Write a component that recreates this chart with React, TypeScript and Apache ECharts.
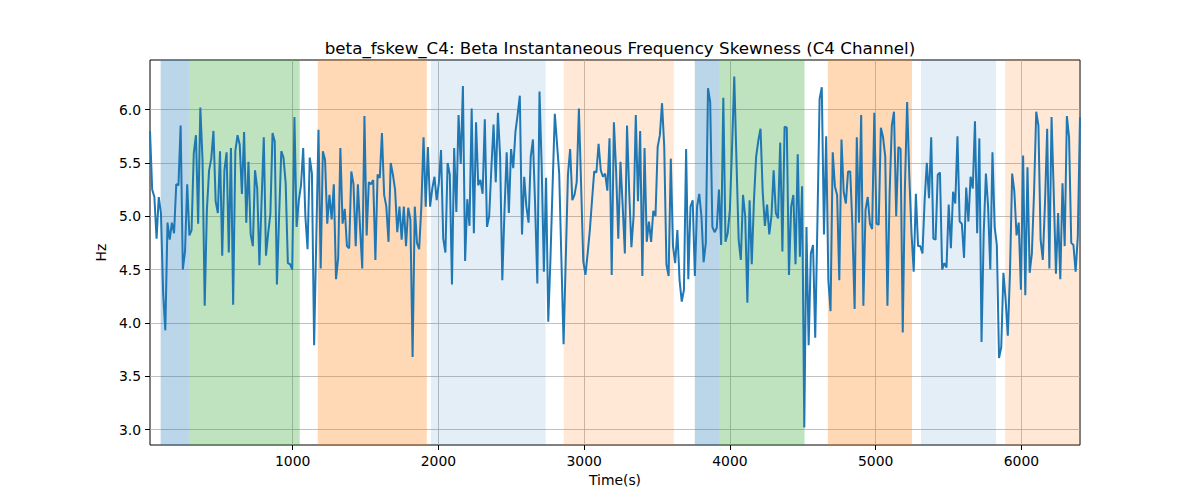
import React, { useEffect, useRef } from "react";
import * as echarts from "echarts";

// sampled values (Hz), one every ~15 s
const skewValues: number[] = [
	5.80, 5.25, 5.18, 4.79, 5.18, 5.03, 4.28, 3.93, 4.94, 4.78,
	4.94, 4.84, 5.30, 5.29, 5.85, 4.50, 4.67, 5.30, 4.82, 4.87,
	5.59, 5.76, 4.93, 6.02, 5.53, 4.16, 5.06, 5.43, 5.54, 5.80,
	5.14, 5.03, 5.61, 4.63, 5.43, 5.60, 4.66, 5.64, 4.17, 5.61,
	5.76, 5.67, 5.21, 5.79, 4.94, 5.51, 4.83, 4.72, 5.43, 5.26,
	4.54, 5.15, 5.74, 4.63, 4.84, 5.02, 5.78, 5.70, 4.36, 5.00,
	5.61, 5.55, 5.31, 4.56, 4.55, 4.50, 5.93, 4.90, 5.15, 5.29,
	5.64, 5.00, 4.69, 5.55, 5.40, 3.79, 4.80, 5.81, 4.51, 5.61,
	5.53, 4.93, 5.20, 4.97, 5.30, 4.41, 4.61, 5.64, 4.93, 5.07,
	4.72, 4.70, 5.42, 5.30, 4.72, 5.30, 4.89, 4.51, 5.94, 4.82,
	5.32, 5.30, 5.34, 4.59, 5.39, 5.36, 5.78, 5.20, 5.09, 4.76,
	5.50, 5.39, 5.25, 4.85, 5.09, 4.78, 5.09, 4.72, 5.08, 4.97,
	3.68, 5.09, 4.75, 4.69, 5.09, 5.74, 5.09, 5.65, 5.09, 5.26,
	5.37, 5.15, 5.31, 5.62, 4.79, 4.66, 5.50, 5.39, 4.36, 5.64,
	5.04, 5.95,
	5.49, 6.22, 4.58, 5.16, 4.91, 6.01, 4.84, 5.88, 5.29, 5.34,
	5.21, 5.91, 4.90, 5.00, 5.45, 5.86, 5.32, 5.97, 5.56, 4.40,
	5.05, 5.60, 5.03, 5.63, 5.45, 5.79, 5.95, 6.13, 4.83, 5.37,
	5.09, 4.94, 5.56, 5.72, 5.10, 4.37, 6.17, 5.46, 4.48, 5.36,
	4.01, 4.60, 5.30, 5.96, 5.68, 5.40, 4.60, 3.80, 4.60, 5.39,
	5.63, 5.15, 5.20, 5.32, 6.01, 5.30, 4.58, 4.45, 4.65, 4.87,
	5.15, 5.42, 5.41, 5.68, 5.43, 5.37, 5.40, 5.24, 5.73, 4.45,
	5.88, 5.43,
	4.79, 5.51, 5.10, 4.65, 5.85, 5.22, 4.71, 5.00, 5.95, 5.14,
	5.80, 4.44, 5.64, 4.76, 4.95, 4.76, 5.05, 5.00, 5.65, 5.76,
	6.06, 5.65, 4.55, 4.44, 5.54, 4.72, 4.56, 4.87, 4.40, 4.20,
	4.31, 5.63, 4.41, 5.09, 5.15, 4.44, 5.09, 5.21, 5.00, 4.57,
	4.75, 6.20, 6.07, 4.90, 4.85, 4.89, 5.25, 4.73, 6.11, 4.76,
	4.84, 5.06, 5.65, 6.31, 5.53, 4.78, 4.59, 5.20, 5.00, 4.19,
	5.15, 4.55, 5.15, 5.56, 5.71, 5.82, 5.23, 4.91, 5.11, 4.83,
	5.00, 5.43,
	5.03, 4.98, 5.69, 4.67, 5.84, 5.83, 4.45, 5.09, 5.20, 4.55,
	5.58, 4.62, 5.28, 3.02, 4.90, 3.79, 4.65, 4.73, 3.86, 4.94,
	6.10, 6.21, 4.83, 5.75, 4.40, 4.11, 5.60, 5.28, 5.20, 4.40,
	5.72, 5.23, 5.12, 5.42, 5.42, 4.90, 4.13, 5.74, 4.94, 5.95,
	4.16, 5.06, 5.18, 4.93, 4.88, 5.97, 4.93, 4.92, 5.83, 5.74,
	5.56, 4.16, 5.22, 5.85, 5.98, 5.00, 5.65, 5.63, 3.91, 5.28,
	6.07, 5.37, 4.84, 4.48, 5.21, 4.72, 4.72, 4.65, 5.15, 5.50,
	5.17, 5.74, 4.79,
	4.78, 5.39, 5.41, 4.50, 4.56, 4.52, 5.11, 4.70, 5.23, 5.12,
	5.75, 4.95, 4.93, 4.61, 5.27, 4.95, 5.37, 5.26, 5.89, 4.84,
	5.73, 3.82, 4.84, 5.40, 5.09, 4.50, 5.60, 4.90, 4.73, 3.67,
	3.77, 4.47, 4.22, 3.88, 4.47, 5.40, 5.23, 4.82, 4.94, 4.31,
	5.57, 4.26, 5.46, 4.47, 4.65, 5.22, 5.98, 5.85, 4.78, 4.59,
	5.12, 5.82, 4.51, 5.93, 5.22, 4.46, 5.03, 4.41, 5.31, 4.72,
	5.94, 5.74, 4.75, 4.73, 4.48, 4.81, 5.93,
];

const startTime = 21;
const endTime = 6402;

// shaded stages
const spanStarts = [94, 289, 1172, 1948, 2860, 3759, 3926, 4672, 5311, 5888];
const spanEnds = [289, 1048, 1920, 2735, 3615, 3926, 4512, 5249, 5826, 6402];
const spanKinds = ["blue", "green", "orange", "lightblue", "lightorange", "blue", "green", "orange", "lightblue", "lightorange"];

const xTicks = [1000, 2000, 3000, 4000, 5000, 6000];
const yTicks = [3.0, 3.5, 4.0, 4.5, 5.0, 5.5, 6.0];

const kindColors: Record<string, string> = {
	blue: "rgba(31,119,180,0.3)",
	green: "rgba(44,160,44,0.3)",
	orange: "rgba(255,127,14,0.3)",
	lightblue: "rgba(31,119,180,0.12)",
	lightorange: "rgba(255,127,14,0.17)",
};

const FONT = "DejaVu Sans";

const App: React.FC = () => {
	const chartRef = useRef<HTMLDivElement>(null);

	useEffect(() => {
		document.body.style.margin = "0";
		if (!chartRef.current) return;
		const chart = echarts.init(chartRef.current, undefined, { renderer: "svg" });

		const step = (endTime - startTime) / (skewValues.length - 1);
		const points = skewValues.map((v, i) => [startTime + i * step, v]);

		const areas = spanStarts.map((s, i) => [
			{ xAxis: s, itemStyle: { color: kindColors[spanKinds[i]] } },
			{ xAxis: spanEnds[i] },
		]);

		const option: any = {
			animation: false,
			title: {
				text: "beta_fskew_C4: Beta Instantaneous Frequency Skewness (C4 Channel)",
				left: 615,
				top: 34,
				textAlign: "center",
				textStyle: { fontFamily: FONT, fontSize: 16.7, fontWeight: "normal", color: "#000" },
			},
			grid: {
				left: 150,
				right: 120,
				top: 60,
				bottom: 55,
				show: true,
				borderColor: "#000",
				borderWidth: 1,
				backgroundColor: "transparent",
			},
			xAxis: {
				type: "value",
				min: startTime,
				max: endTime,
				splitNumber: 6,
				name: "Time(s)",
				nameLocation: "middle",
				nameGap: 28,
				nameTextStyle: { fontFamily: FONT, fontSize: 13.9, color: "#000" },
				axisLine: { show: false },
				axisTick: { show: true, length: 5, lineStyle: { color: "#000" }, customValues: xTicks },
				axisLabel: {
					customValues: xTicks,
					margin: 9,
					fontFamily: FONT,
					fontSize: 13.9,
					color: "#000",
					formatter: (v: number) => String(v),
				},
				splitLine: { show: true, lineStyle: { color: "#b0b0b0", width: 0.8 } },
			},
			yAxis: {
				type: "value",
				min: 2.855,
				max: 6.465,
				splitNumber: 7,
				name: "Hz",
				nameLocation: "middle",
				nameGap: 38,
				nameTextStyle: { fontFamily: FONT, fontSize: 13.9, color: "#000" },
				axisLine: { show: false },
				axisTick: { show: true, length: 5, lineStyle: { color: "#000" }, customValues: yTicks },
				axisLabel: {
					customValues: yTicks,
					margin: 9,
					fontFamily: FONT,
					fontSize: 13.9,
					color: "#000",
					formatter: (v: number) => v.toFixed(1),
				},
				splitLine: { show: true, lineStyle: { color: "#b0b0b0", width: 0.8 } },
			},
			series: [
				{
					name: "stages",
					type: "line",
					data: [],
					z: -1,
					silent: true,
					markArea: { silent: true, data: areas },
				},
				{
					name: "beta_fskew_C4",
					type: "line",
					data: points,
					z: 3,
					showSymbol: false,
					symbol: "none",
					lineStyle: { color: "#1f77b4", width: 2 },
				},
			],
		};

		chart.setOption(option);
		return () => {
			chart.dispose();
		};
	}, []);

	return <div ref={chartRef} style={{ width: "1200px", height: "500px" }} />;
};

export default App;
